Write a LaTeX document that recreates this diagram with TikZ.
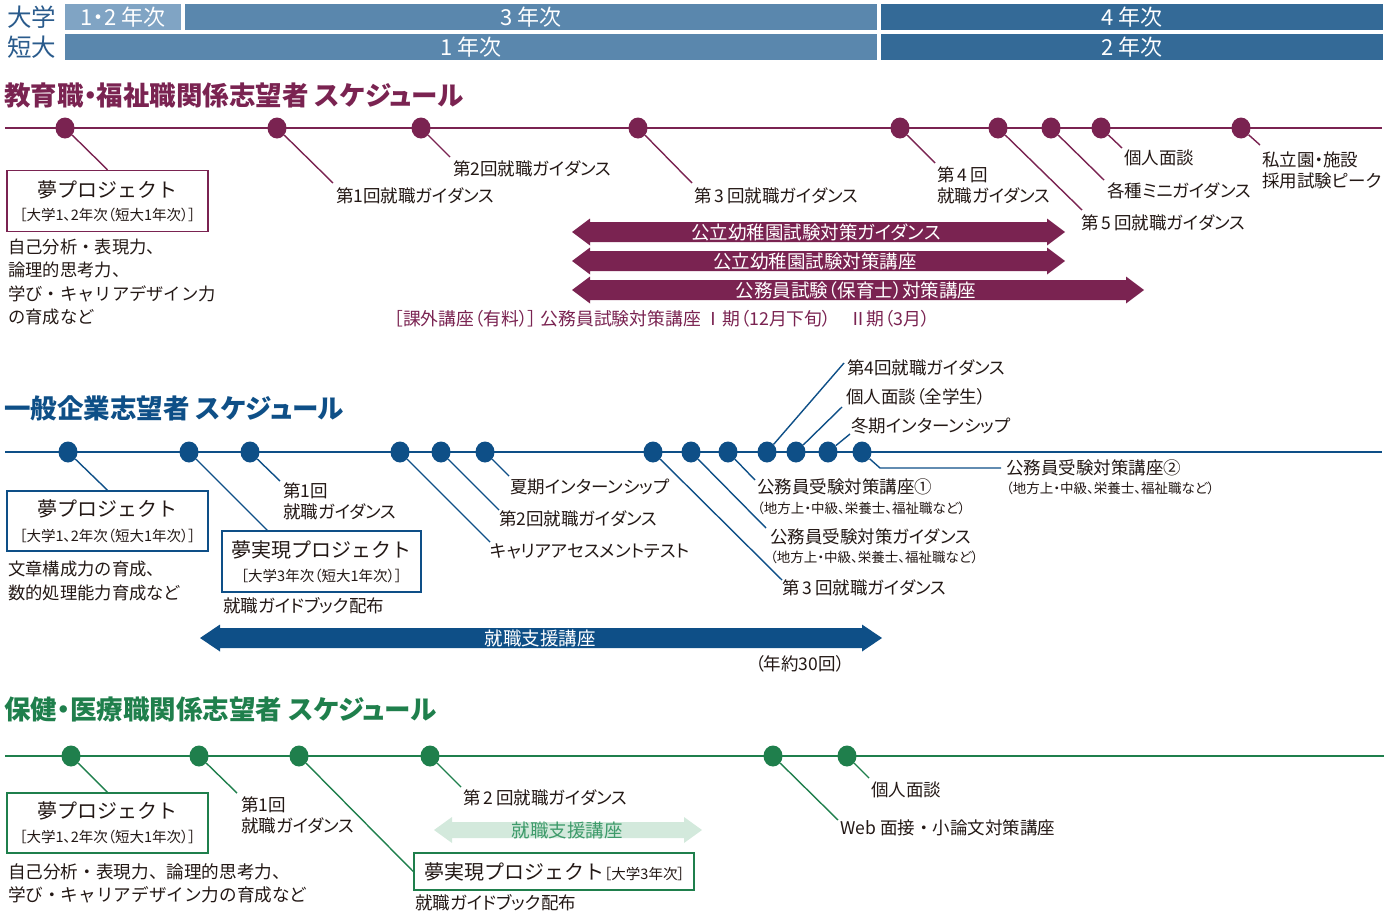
\documentclass[tikz,border=0pt]{standalone}
\usepackage{fontspec}
\setmainfont{Noto Sans CJK JP}[RawFeature=+palt]
\newfontfamily\jpfull{Noto Sans CJK JP}
\usetikzlibrary{shapes.geometric}
\definecolor{txt}{HTML}{231815}
\definecolor{cM}{HTML}{7A2351}
\definecolor{cB}{HTML}{0E4F87}
\definecolor{cG}{HTML}{1F7F4C}
\definecolor{cGl}{HTML}{D3E9DC}
\definecolor{cGt}{HTML}{3E9B6B}
\definecolor{hb1}{HTML}{80A4C4}
\definecolor{hb2}{HTML}{5A87AD}
\definecolor{hb3}{HTML}{346A97}
\definecolor{htx}{HTML}{2A5B8C}
\newcommand{\dblarrow}[7]{%
  \pgfmathsetmacro\ax{#1+#6}\pgfmathsetmacro\bx{#2-#6}%
  \fill[#7] (#1,#3) -- (\ax,#3-#5) -- (\ax,#3-#4) -- (\bx,#3-#4) -- (\bx,#3-#5) -- (#2,#3)
    -- (\bx,#3+#5) -- (\bx,#3+#4) -- (\ax,#3+#4) -- (\ax,#3+#5) -- cycle;}
\newcommand{\dg}[1]{\hspace{3pt}#1\hspace{3pt}}
\tikzset{
  every node/.style={inner sep=0pt},
  lbl/.style={anchor=west, font=\fontsize{17.5}{21}\selectfont, text=txt, align=left},
  para/.style={anchor=west, font=\jpfull\fontsize{17.3}{23.3}\selectfont, text=txt, align=left},
  sublbl/.style={anchor=west, font=\fontsize{13.5}{16}\selectfont, text=txt},
  boxttl/.style={font=\jpfull\fontsize{20}{22}\selectfont, text=txt},
  boxsub/.style={font=\fontsize{14.5}{16}\selectfont, text=txt},
  title/.style={anchor=west, font=\bfseries\fontsize{26.5}{28}\selectfont},
  hdr/.style={anchor=west, font=\fontsize{24.5}{26}\selectfont, text=htx},
  bar/.style={rectangle, minimum height=26, text=white, font=\fontsize{22}{24}\selectfont},
  tl/.style={line width=2pt},
  lead/.style={line width=1.4pt},
  dotn/.style={ellipse, minimum width=19, minimum height=21},
  frame/.style={rectangle, line width=1.5pt, fill=white},
  arrtxt/.style={text=white, font=\fontsize{18.5}{20}\selectfont},
}
\begin{document}
\begin{tikzpicture}[x=1pt,y=-1pt]
\useasboundingbox (0,0) rectangle (1388,916);

% ---------- header ----------
\node[hdr] (hU) at (7,17) {大学};
\node[hdr] (hT) at (7,47) {短大};
\node[bar, fill=hb1, minimum width=116] (b12) at (123,17) {1・2 年次};
\node[bar, fill=hb2, minimum width=692] (b3) at (531,17) {3 年次};
\node[bar, fill=hb3, minimum width=502] (b4) at (1132,17) {4 年次};
\node[bar, fill=hb2, minimum width=812] (t1) at (471,47) {1 年次};
\node[bar, fill=hb3, minimum width=502] (t2) at (1132,47) {2 年次};

% ---------- section 1 ----------
\node[title, text=cM] (ttlM) at (4,95) {教育職・福祉職関係志望者 スケジュール};
\coordinate (mL) at (5,128); \coordinate (mR) at (1382,128);
\draw[tl, cM] (mL) -- (mR);
\foreach \n/\x in {1/65,2/277,3/421,4/638,5/900,6/998,7/1051,8/1101,9/1241}
  \node[dotn, fill=cM] (m\n) at (\x,128) {};
\node[frame, draw=cM, minimum width=201, minimum height=61] (mbox) at (107.5,201) {};
\node[boxttl] (mbt) at (107.5,190) {夢プロジェクト};
\node[boxsub] (mbs) at (107.5,215) {［大学1、2年次（短大1年次）］};
\node[para] (mpar) at (8,282) {自己分析・表現力、\\論理的思考力、\\学び・キャリアデザイン力\\の育成など};
\coordinate (m2e) at (333,183); \coordinate (m3e) at (450,157);
\coordinate (m4e) at (692,183); \coordinate (m5e) at (935,163);
\coordinate (m6e) at (1082,210); \coordinate (m7e) at (1104,180);
\coordinate (m8e) at (1122,148); \coordinate (m9e) at (1260,145);
\draw[lead, cM] (m1) -- (mbox.north);
\foreach \n in {2,...,9} \draw[lead, cM] (m\n) -- (m\n e);
\node[lbl] (ml2) at (336,196) {第1回就職ガイダンス};
\node[lbl] (ml3) at (453,169) {第2回就職ガイダンス};
\node[lbl] (ml4) at (694,196) {第\dg{3}回就職ガイダンス};
\node[lbl] (ml5) at (937,185) {第\dg{4}回\\就職ガイダンス};
\node[lbl] (ml6) at (1081,223) {第\dg{5}回就職ガイダンス};
\node[lbl] (ml7) at (1107,191) {各種ミニガイダンス};
\node[lbl] (ml8) at (1124,158) {個人面談};
\node[lbl] (ml9) at (1262,170) {私立園・施設\\採用試験ピーク};
\dblarrow{572}{1065}{232}{10}{13.5}{18}{cM}
\dblarrow{572}{1065}{261}{10}{13.5}{18}{cM}
\dblarrow{572}{1144}{290}{10}{13.5}{18}{cM}
\node[arrtxt] (ma1) at (816,232) {公立幼稚園試験対策ガイダンス};
\node[arrtxt] (ma2) at (815,261) {公立幼稚園試験対策講座};
\node[arrtxt] (ma3) at (856,290) {公務員試験（保育士）対策講座};
\node[lbl, text=cM, font=\fontsize{17.8}{21}\selectfont] (mcap) at (394,319) {［課外講座（有料）］ 公務員試験対策講座 Ⅰ期（12月下旬）　Ⅱ期（3月）};

% ---------- section 2 ----------
\node[title, text=cB] (ttlB) at (4,408) {一般企業志望者 スケジュール};
\coordinate (bL) at (5,452); \coordinate (bR) at (1382,452);
\draw[tl, cB] (bL) -- (bR);
\foreach \n/\x in {1/68,2/189,3/250,4/400,5/441,6/485,7/653,8/691,9/728,10/767,11/796,12/828,13/862}
  \node[dotn, fill=cB] (b\n) at (\x,452) {};
\node[frame, draw=cB, minimum width=201, minimum height=60] (bbox1) at (107.5,521) {};
\node[boxttl] (bb1t) at (107.5,509) {夢プロジェクト};
\node[boxsub] (bb1s) at (107.5,536) {［大学1、2年次（短大1年次）］};
\node[para] (bpar) at (8,581) {文章構成力の育成、\\数的処理能力育成など};
\node[frame, draw=cB, minimum width=199, minimum height=61] (bbox2) at (321.5,561.5) {};
\node[boxttl] (bb2t) at (321.5,550) {夢実現プロジェクト};
\node[boxsub] (bb2s) at (321.5,576) {［大学3年次（短大1年次）］};
\node[lbl] (bguide) at (223,606) {就職ガイドブック配布};
\coordinate (b2e) at (268,531);
\coordinate (b3e) at (280,481); \coordinate (b4e) at (490,542);
\coordinate (b5e) at (499,510); \coordinate (b6e) at (509,476);
\coordinate (b7e) at (782,580); \coordinate (b8e) at (766,528);
\coordinate (b9e) at (755,480); \coordinate (b10e) at (844,363);
\coordinate (b11e) at (842,407); \coordinate (b12e) at (850,434);
\coordinate (b13k) at (880,468); \coordinate (b13e) at (1001,468);
\draw[lead, cB] (b1) -- (bbox1.north);
\foreach \n in {2,...,12} \draw[lead, cB] (b\n) -- (b\n e);
\draw[lead, cB] (b13) -- (b13k) -- (b13e);
\node[lbl] (bl3) at (283,501) {第1回\\就職ガイダンス};
\node[lbl] (bl4) at (490,551) {キャリアアセスメントテスト};
\node[lbl] (bl5) at (499,519) {第2回就職ガイダンス};
\node[lbl] (bl6) at (510,487) {夏期インターンシップ};
\node[lbl] (bl7) at (782,588) {第\dg{3}回就職ガイダンス};
\node[lbl] (bl8) at (770,537) {公務員受験対策ガイダンス};
\node[sublbl] (bs8) at (770,557) {（地方上・中級、栄養士、福祉職など）};
\node[lbl] (bl9) at (757,487) {公務員受験対策講座①};
\node[sublbl] (bs9) at (757,508) {（地方上・中級、栄養士、福祉職など）};
\node[lbl] (bl10) at (847,368) {第4回就職ガイダンス};
\node[lbl] (bl11) at (846,397) {個人面談（全学生）};
\node[lbl] (bl12) at (851,426) {冬期インターンシップ};
\node[lbl] (bl13) at (1006,468) {公務員受験対策講座②};
\node[sublbl] (bs13) at (1006,488) {（地方上・中級、栄養士、福祉職など）};
\dblarrow{200}{882}{638}{10}{13.5}{20}{cB}
\node[arrtxt] (ba) at (540,638) {就職支援講座};
\node[lbl] (bnum) at (755,664) {（年約30回）};

% ---------- section 3 ----------
\node[title, text=cG] (ttlG) at (4,709) {保健・医療職関係志望者 スケジュール};
\coordinate (gL) at (5,756); \coordinate (gR) at (1384,756);
\draw[tl, cG] (gL) -- (gR);
\foreach \n/\x in {1/71,2/199,3/299,4/430,5/773,6/847}
  \node[dotn, fill=cG] (g\n) at (\x,756) {};
\node[frame, draw=cG, minimum width=201, minimum height=60] (gbox1) at (107.5,823) {};
\node[boxttl] (gb1t) at (107.5,811) {夢プロジェクト};
\node[boxsub] (gb1s) at (107.5,837) {［大学1、2年次（短大1年次）］};
\node[para, font=\jpfull\fontsize{17.6}{23}\selectfont] (gpar) at (8,883) {自己分析・表現力、論理的思考力、\\学び・キャリアデザイン力の育成など};
\node[frame, draw=cG, minimum width=280, minimum height=37] (gbox2) at (554,871.5) {};
\node[anchor=west, text=txt] (gb2t) at (424,872) {{\jpfull\fontsize{20}{22}\selectfont 夢実現プロジェクト}{\fontsize{14.5}{16}\selectfont［大学3年次］}};
\node[lbl] (gguide) at (415,903) {就職ガイドブック配布};
\coordinate (g2e) at (237,793); \coordinate (g4e) at (461,787);
\coordinate (g5e) at (838,820); \coordinate (g6e) at (869,778);
\draw[lead, cG] (g1) -- (gbox1.north);
\draw[lead, cG] (g2) -- (g2e);
\draw[lead, cG] (g3) -- (gbox2.west);
\draw[lead, cG] (g4) -- (g4e);
\draw[lead, cG] (g5) -- (g5e);
\draw[lead, cG] (g6) -- (g6e);
\node[lbl] (gl2) at (241,815) {第1回\\就職ガイダンス};
\node[lbl] (gl4) at (463,798) {第\dg{2}回就職ガイダンス};
\node[lbl, font=\jpfull\fontsize{17.5}{21}\selectfont] (gl5) at (840,828) {Web 面接・小論文対策講座};
\node[lbl] (gl6) at (871,790) {個人面談};
\dblarrow{434}{702}{830}{8}{13}{18}{cGl}
\node[arrtxt, text=cGt] (ga) at (567,830) {就職支援講座};
\end{tikzpicture}
\end{document}
